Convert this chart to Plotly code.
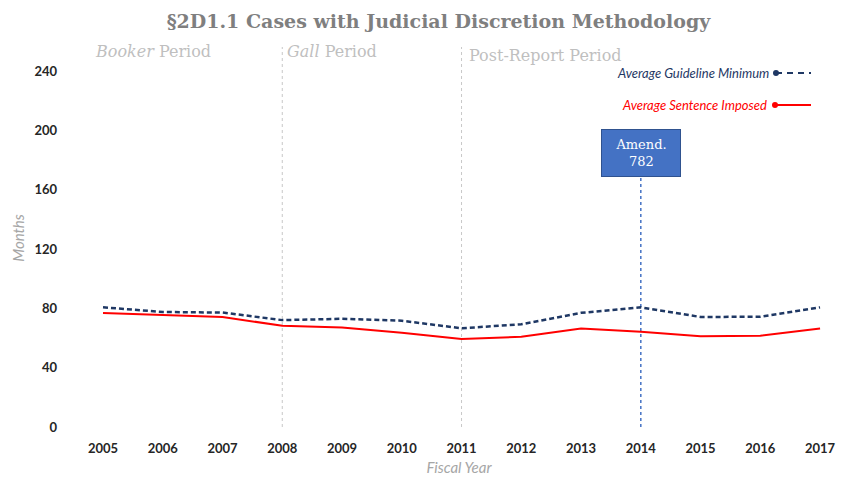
import plotly.graph_objects as go

years = list(range(2005, 2018))
guideline_min = [80.7, 77.6, 77.2, 72.1, 73.0, 71.7, 66.6, 69.3, 77.0, 80.7, 74.2, 74.4, 80.7]
sentence_imposed = [76.9, 75.3, 74.2, 68.3, 67.2, 63.6, 59.3, 60.9, 66.5, 64.3, 61.3, 61.6, 66.5]
y_ticks = [0, 40, 80, 120, 160, 200, 240]
period_years = [2008, 2011]
amend_year = 2014

L, R, T, B = 80, 15, 49, 51
W, H = 853, 478
pw, ph = W - L - R, H - T - B
def px(x):
    return (x - L) / pw
def py_(y):
    return (H - B - y) / ph

fig = go.Figure()
fig.add_trace(go.Scatter(x=years, y=guideline_min, mode="lines", name="Average Guideline Minimum",
                         line=dict(color="#1f3864", width=2.5, dash="5px,3px")))
fig.add_trace(go.Scatter(x=years, y=sentence_imposed, mode="lines", name="Average Sentence Imposed",
                         line=dict(color="#ff0000", width=2)))

# period boundaries
for p in period_years:
    fig.add_shape(type="line", x0=p, x1=p, y0=0, y1=py_(47), yref="paper", xref="x",
                  line=dict(color="#c8c8c8", width=1, dash="dot"), layer="below")
# amendment line
fig.add_shape(type="line", x0=amend_year, x1=amend_year, y0=0, y1=168, xref="x", yref="y",
              line=dict(color="#4472c4", width=1.5, dash="dot"), layer="below")

fig.add_annotation(x=amend_year, y=184.7, xref="x", yref="y", text="Amend.<br>782", showarrow=False,
                   font=dict(family="DejaVu Serif", size=13, color="white"),
                   bgcolor="#4472c4", bordercolor="#2f528f", borderwidth=1, width=76, height=44)

period_font = dict(family="DejaVu Serif", size=16, color="#bfbfbf")
fig.add_annotation(x=px(93), y=py_(52), xref="paper", yref="paper", text="<i>Booker</i> Period", showarrow=False,
                   font=period_font, xanchor="left", yanchor="middle")
fig.add_annotation(x=period_years[0], y=py_(52), xref="x", yref="paper", text="<i>Gall</i> Period", showarrow=False,
                   font=period_font, xanchor="left", yanchor="middle", xshift=3)
fig.add_annotation(x=period_years[1], y=py_(55), xref="x", yref="paper", text="Post-Report Period", showarrow=False,
                   font=period_font, xanchor="left", yanchor="middle", xshift=5)

# custom legend
fig.add_annotation(x=px(771), y=py_(73), xref="paper", yref="paper", text="<i>Average Guideline Minimum</i>",
                   showarrow=False, xanchor="right", yanchor="middle",
                   font=dict(family="Lato", size=13, color="#1f3864"))
fig.add_annotation(x=px(769), y=py_(105), xref="paper", yref="paper", text="<i>Average Sentence Imposed</i>",
                   showarrow=False, xanchor="right", yanchor="middle",
                   font=dict(family="Lato", size=13, color="#ff0000"))
fig.add_shape(type="line", xref="paper", yref="paper", x0=px(776), x1=px(811), y0=py_(73), y1=py_(73),
              line=dict(color="#1f3864", width=2, dash="6px,5px"))
fig.add_shape(type="circle", xref="paper", yref="paper", x0=px(773), x1=px(779), y0=py_(70), y1=py_(76),
              fillcolor="#1f3864", line=dict(color="#1f3864", width=0))
fig.add_shape(type="line", xref="paper", yref="paper", x0=px(775), x1=px(811), y0=py_(105), y1=py_(105),
              line=dict(color="#ff0000", width=2))
fig.add_shape(type="circle", xref="paper", yref="paper", x0=px(772), x1=px(778), y0=py_(102), y1=py_(108),
              fillcolor="#ff0000", line=dict(color="#ff0000", width=0))

fig.update_layout(
    width=W, height=H,
    margin=dict(l=L, r=R, t=T, b=B),
    plot_bgcolor="white", paper_bgcolor="white",
    showlegend=False,
    title=dict(text="<b>§2D1.1 Cases with Judicial Discretion Methodology</b>", x=0.514, xanchor="center",
               y=0.956, yanchor="middle", automargin=False,
               font=dict(family="DejaVu Serif", size=19, color="#7f7f7f")),
    xaxis=dict(range=[2004.615, 2017.3], tickvals=years, ticktext=[str(y) for y in years],
               showgrid=False, zeroline=False, showline=False, automargin=False,
               tickfont=dict(family="Lato", size=13, color="#262626", weight="bold"),
               ticks="", ticklabelstandoff=12,
               title=dict(text="<i>Fiscal Year</i>", font=dict(family="Lato", size=15, color="#a6a6a6"), standoff=7)),
    yaxis=dict(range=[0, 255], tickvals=y_ticks, showgrid=False, zeroline=False, showline=False,
               automargin=False,
               tickfont=dict(family="Lato", size=13, color="#262626", weight="bold"),
               ticks="", ticklabelstandoff=22,
               title=dict(text="<i>Months</i>", font=dict(family="Lato", size=15, color="#a6a6a6"), standoff=6)),
)

fig.write_html("out.html", config={"displayModeBar": False},
               post_script="document.body.style.margin='0';")
